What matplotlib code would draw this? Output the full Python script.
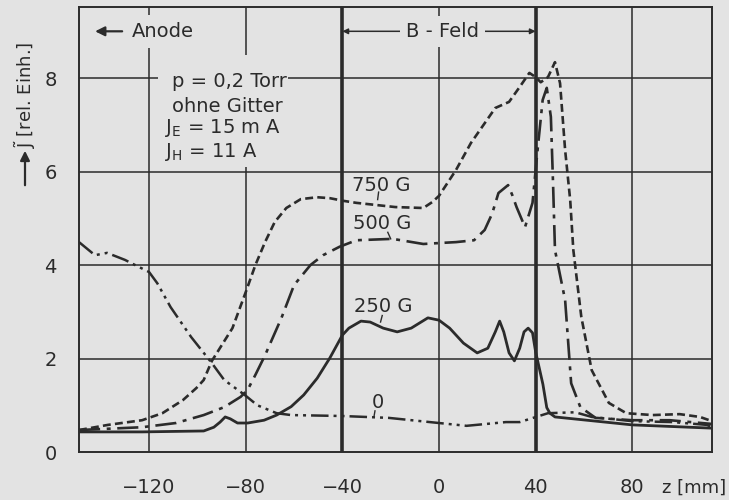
import numpy as np
import matplotlib
matplotlib.use("Agg")
import matplotlib.pyplot as plt
from matplotlib.patches import Rectangle

# ---------------------------------------------------------------
# curves, z in mm, J in rel. units
z_0 = [-149, -142.4, -137.4, -130, -125.8, -120, -116.6, -111.1, -102.6, -94, -88.9,
       -80.4, -75.2, -67.2, -61.2, -40, -20.8, 0, 11.4, 27.7, 33.4, 45.1, 56.4, 63.2,
       80, 96.7, 110.9, 113]
j_0 = [4.49, 4.21, 4.26, 4.11, 4.00, 3.85, 3.61, 3.10, 2.46, 1.90, 1.54,
       1.22, 1.00, 0.83, 0.79, 0.77, 0.73, 0.62, 0.56, 0.64, 0.64, 0.83, 0.85, 0.75,
       0.66, 0.64, 0.58, 0.53]

z_250 = [-149, -122.9, -97.4, -93.2, -90.6, -88.5, -86.4, -83.4, -79.2, -72.4, -67.2,
         -61.2, -56, -50.4, -45.2, -40, -37.3, -32.3, -28.5, -23.1, -17.3, -11.5, -4.6,
         0, 4.4, 10.1, 15.8, 20.2, 23.3, 25.1, 26.8, 29.0, 31.2, 33.4, 35.2, 36.9, 38.7,
         40, 41.7, 43, 44.6, 45.9, 48, 80, 113]
j_250 = [0.43, 0.43, 0.45, 0.53, 0.64, 0.75, 0.71, 0.62, 0.62, 0.68, 0.79,
         0.97, 1.22, 1.58, 2.01, 2.50, 2.65, 2.80, 2.78, 2.65, 2.57, 2.65, 2.87,
         2.82, 2.65, 2.33, 2.12, 2.22, 2.57, 2.80, 2.57, 2.12, 1.95, 2.22, 2.57, 2.65, 2.55,
         2.14, 1.75, 1.45, 0.95, 0.83, 0.75, 0.58, 0.51]

z_500 = [-149, -122.9, -108.9, -97.4, -88.9, -82.1, -79.2, -76, -72, -65.2, -60,
         -53.2, -48, -41.2, -34.2, -19.2, -6.5, 0, 7, 14.5, 18.9, 22, 24.6, 28.6, 30.3,
         32.1, 35.6, 38.7, 40.8, 42.9, 44.6, 46.3, 47.2, 48, 52.2, 54.7, 58.5, 64.8, 80,
         95.5, 113]
j_500 = [0.47, 0.53, 0.62, 0.79, 0.96, 1.18, 1.33, 1.65, 2.07, 2.87, 3.57,
         4.00, 4.21, 4.39, 4.53, 4.56, 4.45, 4.47, 4.49, 4.53, 4.75, 5.10, 5.54, 5.71, 5.50,
         5.24, 4.81, 5.33, 6.46, 7.53, 7.79, 7.17, 5.75, 4.32, 3.25, 1.47, 0.96, 0.73, 0.68,
         0.68, 0.60]

z_750 = [-149, -137, -122.9, -114.5, -106, -100.4, -97.4, -94, -85.5, -80, -76, -72,
         -68, -63.2, -57.2, -50.4, -45.2, -39.2, -34.2, -18.1, -6.5, -2.7, 0, 7, 13.2,
         23.3, 29, 33.4, 37.4, 40, 42.1, 45.1, 48, 50.1, 52.2, 54.3, 55.6, 58.9, 63.2,
         70.3, 77.5, 88.4, 99.6, 108, 113]
j_750 = [0.47, 0.58, 0.68, 0.83, 1.11, 1.37, 1.54, 1.95, 2.65, 3.42, 4.00, 4.49,
         4.92, 5.22, 5.41, 5.45, 5.43, 5.37, 5.33, 5.24, 5.22, 5.35, 5.48, 6.03, 6.61,
         7.36, 7.49, 7.81, 8.11, 8.02, 7.91, 8.02, 8.34, 7.89, 6.46, 5.39, 4.32, 2.89, 1.75,
         1.05, 0.83, 0.79, 0.81, 0.75, 0.66]

xticks = [-120, -80, -40, 0, 40, 80]
yticks = [0, 2, 4, 6, 8]

# ---------------------------------------------------------------
paper = '#e3e3e3'
ink = '#2b2b2b'

fig = plt.figure(figsize=(7.29, 5.0), dpi=100, facecolor=paper)
ax = fig.add_axes([0.1084, 0.096, 0.8683, 0.89], facecolor=paper)
ax.set_xlim(-149, 113)
ax.set_ylim(0, 9.52)

# grid
for x in [-120, -80, 0, 80]:
    ax.axvline(x, color=ink, lw=1.1, zorder=1)
for x in [-40, 40]:
    ax.axvline(x, color=ink, lw=2.6, zorder=1)
for y in [2, 4, 6, 8]:
    ax.axhline(y, color=ink, lw=1.1, zorder=1)

for s in ax.spines.values():
    s.set_color(ink)
    s.set_linewidth(1.4)

ax.set_xticks(xticks)
ax.set_yticks(yticks)
ax.set_xticklabels(['\u2212120', '\u221280', '\u221240', '0', '40', '80'])
ax.tick_params(length=0, labelsize=14, colors=ink)
ax.tick_params(axis='x', pad=19)
ax.tick_params(axis='y', pad=16)

# curves
ax.plot(z_0, j_0, color=ink, lw=1.8, dashes=(7, 2, 1.2, 2, 1.2, 2), zorder=3)
ax.plot(z_250, j_250, color=ink, lw=2.0, zorder=3)
ax.plot(z_500, j_500, color=ink, lw=1.9, dashes=(8, 2.5, 1.5, 2.5), zorder=3)
ax.plot(z_750, j_750, color=ink, lw=1.9, dashes=(3, 1.6), zorder=3)

# curve labels with little leaders
lab = dict(fontsize=14, color=ink, ha='center', va='center', zorder=4)
ax.text(-23.9, 5.70, '750 G', **lab)
ax.text(-23.5, 4.88, '500 G', **lab)
ax.text(-23.1, 3.12, '250 G', **lab)
ax.text(-25.2, 1.05, '0', **lab)
ax.plot([-25.0, -25.4], [5.56, 5.40], color=ink, lw=1.0)
ax.plot([-21.2, -20.0], [4.70, 4.56], color=ink, lw=1.0)
ax.plot([-23.5, -24.2], [2.92, 2.78], color=ink, lw=1.0)
ax.plot([-26.5, -26.9], [0.88, 0.76], color=ink, lw=1.0)

# parameter block, grid is blanked behind it
ax.add_patch(Rectangle((-116.3, 6.1), 53.8, 2.4, facecolor=paper, edgecolor='none', zorder=2))
par = dict(fontsize=14, color=ink, va='center', zorder=4)
ax.text(-110.5, 7.92, 'p = 0,2 Torr', **par)
ax.text(-110.5, 7.40, 'ohne Gitter', **par)
ax.text(-113.4, 6.93, r'J$_\mathsf{E}$ = 15 m A', **par)
ax.text(-113.4, 6.42, r'J$_\mathsf{H}$ = 11 A', **par)

# anode arrow
ax.text(-114.2, 9.0, 'Anode', fontsize=14, color=ink, ha='center', va='center', zorder=4,
        bbox=dict(boxstyle='square,pad=0.35', fc=paper, ec='none'))
ax.annotate('', xy=(-143.5, 9.0), xytext=(-130.0, 9.0),
            arrowprops=dict(arrowstyle='-|>', color=ink, lw=1.6, mutation_scale=14), zorder=5)

# B-field span
ax.annotate('', xy=(-40, 9.0), xytext=(40, 9.0),
            arrowprops=dict(arrowstyle='<|-|>', color=ink, lw=1.1, mutation_scale=8,
                            shrinkA=0, shrinkB=0), zorder=3)
ax.text(1.5, 9.0, 'B - Feld', fontsize=14, color=ink, ha='center', va='center', zorder=4,
        bbox=dict(boxstyle='square,pad=0.3', fc=paper, ec='none'))

# axis captions
fig.text(694 / 729, 1 - 488 / 500, 'z [mm]', fontsize=13, color=ink, ha='center', va='center')
fig.text(25 / 729, 1 - 95 / 500, r'$\tilde{\mathsf{J}}$ [rel. Einh.]', fontsize=13, color=ink,
         rotation=90, ha='center', va='center')
ax.annotate('', xy=(25, 500 - 148), xytext=(25, 500 - 188), xycoords='figure pixels',
            textcoords='figure pixels',
            arrowprops=dict(arrowstyle='-|>', color=ink, lw=1.6, mutation_scale=14))

fig.savefig('out.png', dpi=100, facecolor=paper)
